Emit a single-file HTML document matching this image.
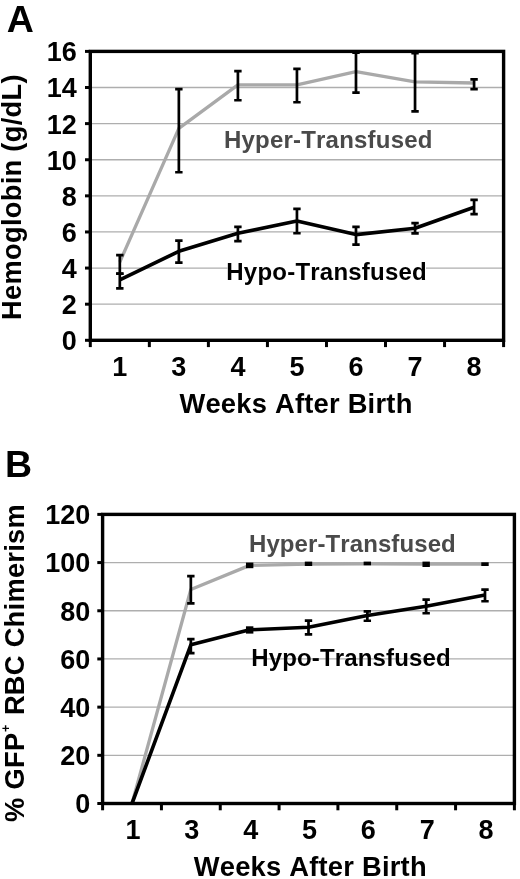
<!DOCTYPE html><html><head><meta charset="utf-8"><style>html,body{margin:0;padding:0;background:#fff}svg{display:block;filter:blur(0.45px)}text{font-kerning:none;font-family:"Liberation Sans",sans-serif;font-weight:bold}</style></head><body>
<svg width="520" height="879" viewBox="0 0 520 879">
<rect width="520" height="879" fill="#fff"/>
<line x1="90.3" x2="503.6" y1="304.19" y2="304.19" stroke="#aeaeae" stroke-width="1.3"/>
<line x1="90.3" x2="503.6" y1="268.07" y2="268.07" stroke="#aeaeae" stroke-width="1.3"/>
<line x1="90.3" x2="503.6" y1="231.96" y2="231.96" stroke="#aeaeae" stroke-width="1.3"/>
<line x1="90.3" x2="503.6" y1="195.85" y2="195.85" stroke="#aeaeae" stroke-width="1.3"/>
<line x1="90.3" x2="503.6" y1="159.74" y2="159.74" stroke="#aeaeae" stroke-width="1.3"/>
<line x1="90.3" x2="503.6" y1="123.62" y2="123.62" stroke="#aeaeae" stroke-width="1.3"/>
<line x1="90.3" x2="503.6" y1="87.51" y2="87.51" stroke="#aeaeae" stroke-width="1.3"/>
<polyline fill="none" stroke="#a9a9a9" stroke-width="3.3" stroke-linejoin="round" stroke-linecap="butt" points="119.82,262 178.86,128.3 237.91,84.8 296.95,84.8 355.99,71.7 415.04,81.9 474.08,83"/>
<path d="M119.82 253.8V275.1M116.12 255.15H123.52M116.12 273.75H123.52" stroke="#000" stroke-width="2.7" fill="none"/>
<path d="M178.86 87.8V173.6M175.16 89.15H182.56M175.16 172.25H182.56" stroke="#000" stroke-width="2.7" fill="none"/>
<path d="M237.91 69.8V101.6M234.21 71.15H241.61M234.21 100.25H241.61" stroke="#000" stroke-width="2.7" fill="none"/>
<path d="M296.95 67.6V103.6M293.25 68.95H300.65M293.25 102.25H300.65" stroke="#000" stroke-width="2.7" fill="none"/>
<path d="M355.99 51.2V93.9M352.29 52.55H359.69M352.29 92.55H359.69" stroke="#000" stroke-width="2.7" fill="none"/>
<path d="M415.04 51.8V112.8M411.34 53.15H418.74M411.34 111.45H418.74" stroke="#000" stroke-width="2.7" fill="none"/>
<path d="M474.08 78.1V90.4M470.38 79.45H477.78M470.38 89.05H477.78" stroke="#000" stroke-width="2.7" fill="none"/>
<rect x="227.5" y="265" width="198.5" height="6" fill="#fff"/>
<polyline fill="none" stroke="#000" stroke-width="3.6" stroke-linejoin="round" stroke-linecap="butt" points="119.82,279.8 178.86,251.3 237.91,233.3 296.95,220.9 355.99,234.6 415.04,228.3 474.08,207.3"/>
<path d="M119.82 272.3V289.7M116.12 273.65H123.52M116.12 288.35H123.52" stroke="#000" stroke-width="2.7" fill="none"/>
<path d="M178.86 239.3V264M175.16 240.65H182.56M175.16 262.65H182.56" stroke="#000" stroke-width="2.7" fill="none"/>
<path d="M237.91 225.5V242.4M234.21 226.85H241.61M234.21 241.05H241.61" stroke="#000" stroke-width="2.7" fill="none"/>
<path d="M296.95 207.6V234.6M293.25 208.95H300.65M293.25 233.25H300.65" stroke="#000" stroke-width="2.7" fill="none"/>
<path d="M355.99 225.5V246M352.29 226.85H359.69M352.29 244.65H359.69" stroke="#000" stroke-width="2.7" fill="none"/>
<path d="M415.04 221.8V234.8M411.34 223.15H418.74M411.34 233.45H418.74" stroke="#000" stroke-width="2.7" fill="none"/>
<path d="M474.08 198.5V215.4M470.38 199.85H477.78M470.38 214.05H477.78" stroke="#000" stroke-width="2.7" fill="none"/>
<rect x="90.3" y="51.4" width="413.3" height="288.9" fill="none" stroke="#000" stroke-width="3.4"/>
<line x1="85" x2="90.3" y1="340.3" y2="340.3" stroke="#000" stroke-width="3"/>
<text x="76.7" y="350.2" font-size="27" text-anchor="end">0</text>
<line x1="85" x2="90.3" y1="304.19" y2="304.19" stroke="#000" stroke-width="3"/>
<text x="76.7" y="314.09" font-size="27" text-anchor="end">2</text>
<line x1="85" x2="90.3" y1="268.07" y2="268.07" stroke="#000" stroke-width="3"/>
<text x="76.7" y="277.97" font-size="27" text-anchor="end">4</text>
<line x1="85" x2="90.3" y1="231.96" y2="231.96" stroke="#000" stroke-width="3"/>
<text x="76.7" y="241.86" font-size="27" text-anchor="end">6</text>
<line x1="85" x2="90.3" y1="195.85" y2="195.85" stroke="#000" stroke-width="3"/>
<text x="76.7" y="205.75" font-size="27" text-anchor="end">8</text>
<line x1="85" x2="90.3" y1="159.74" y2="159.74" stroke="#000" stroke-width="3"/>
<text x="76.7" y="169.64" font-size="27" text-anchor="end">10</text>
<line x1="85" x2="90.3" y1="123.62" y2="123.62" stroke="#000" stroke-width="3"/>
<text x="76.7" y="133.53" font-size="27" text-anchor="end">12</text>
<line x1="85" x2="90.3" y1="87.51" y2="87.51" stroke="#000" stroke-width="3"/>
<text x="76.7" y="97.41" font-size="27" text-anchor="end">14</text>
<line x1="85" x2="90.3" y1="51.4" y2="51.4" stroke="#000" stroke-width="3"/>
<text x="76.7" y="61.3" font-size="27" text-anchor="end">16</text>
<line x1="90.3" x2="90.3" y1="340.3" y2="347.1" stroke="#000" stroke-width="3"/>
<line x1="149.34" x2="149.34" y1="340.3" y2="347.1" stroke="#000" stroke-width="3"/>
<line x1="208.39" x2="208.39" y1="340.3" y2="347.1" stroke="#000" stroke-width="3"/>
<line x1="267.43" x2="267.43" y1="340.3" y2="347.1" stroke="#000" stroke-width="3"/>
<line x1="326.47" x2="326.47" y1="340.3" y2="347.1" stroke="#000" stroke-width="3"/>
<line x1="385.51" x2="385.51" y1="340.3" y2="347.1" stroke="#000" stroke-width="3"/>
<line x1="444.56" x2="444.56" y1="340.3" y2="347.1" stroke="#000" stroke-width="3"/>
<line x1="503.6" x2="503.6" y1="340.3" y2="347.1" stroke="#000" stroke-width="3"/>
<text x="119.82" y="376.4" font-size="27" text-anchor="middle">1</text>
<text x="178.86" y="376.4" font-size="27" text-anchor="middle">3</text>
<text x="237.91" y="376.4" font-size="27" text-anchor="middle">4</text>
<text x="296.95" y="376.4" font-size="27" text-anchor="middle">5</text>
<text x="355.99" y="376.4" font-size="27" text-anchor="middle">6</text>
<text x="415.04" y="376.4" font-size="27" text-anchor="middle">7</text>
<text x="474.08" y="376.4" font-size="27" text-anchor="middle">8</text>
<text x="296" y="412.7" font-size="27.3" letter-spacing="0.24" text-anchor="middle">Weeks After Birth</text>
<text transform="translate(21.1,197.1) rotate(-90)" font-size="27.3" letter-spacing="0.28" text-anchor="middle">Hemoglobin (g/dL)</text>
<text x="6.8" y="32.2" font-size="37.5">A</text>
<text x="224" y="147.5" font-size="24" letter-spacing="0.2" fill="#4a4a4a">Hyper-Transfused</text>
<text x="226.3" y="280" font-size="24" letter-spacing="0.22">Hypo-Transfused</text>
<line x1="102.6" x2="514.4" y1="755.32" y2="755.32" stroke="#aeaeae" stroke-width="1.3"/>
<line x1="102.6" x2="514.4" y1="707.13" y2="707.13" stroke="#aeaeae" stroke-width="1.3"/>
<line x1="102.6" x2="514.4" y1="658.95" y2="658.95" stroke="#aeaeae" stroke-width="1.3"/>
<line x1="102.6" x2="514.4" y1="610.77" y2="610.77" stroke="#aeaeae" stroke-width="1.3"/>
<line x1="102.6" x2="514.4" y1="562.58" y2="562.58" stroke="#aeaeae" stroke-width="1.3"/>
<polyline fill="none" stroke="#a9a9a9" stroke-width="3.3" stroke-linejoin="round" stroke-linecap="butt" points="132.01,803.5 190.84,589.5 249.67,565.4 308.5,564.1 367.33,563.8 426.16,564.2 484.99,564.2"/>
<path d="M190.84 574.7V604.8M187.14 576.05H194.54M187.14 603.45H194.54" stroke="#000" stroke-width="2.7" fill="none"/>
<rect x="245.97" y="562.6" width="7.4" height="5.6" fill="#000"/>
<rect x="304.8" y="561.6" width="7.4" height="4.4" fill="#000"/>
<rect x="363.63" y="561.6" width="7.4" height="3.7" fill="#000"/>
<rect x="422.46" y="561.6" width="7.4" height="5.4" fill="#000"/>
<rect x="481.29" y="562.3" width="7.4" height="3.7" fill="#000"/>
<polyline fill="none" stroke="#000" stroke-width="3.6" stroke-linejoin="round" stroke-linecap="butt" points="132.01,803.5 190.84,644.8 249.67,629.8 308.5,627.2 367.33,615.5 426.16,606.3 484.99,595"/>
<path d="M190.84 637.7V654.4M187.14 639.05H194.54M187.14 653.05H194.54" stroke="#000" stroke-width="2.7" fill="none"/>
<rect x="245.97" y="626.3" width="7.4" height="7.3" fill="#000"/>
<path d="M308.5 619.2V635.8M304.8 620.55H312.2M304.8 634.45H312.2" stroke="#000" stroke-width="2.7" fill="none"/>
<path d="M367.33 610V622.1M363.63 611.35H371.03M363.63 620.75H371.03" stroke="#000" stroke-width="2.7" fill="none"/>
<path d="M426.16 598.3V614.6M422.46 599.65H429.86M422.46 613.25H429.86" stroke="#000" stroke-width="2.7" fill="none"/>
<path d="M484.99 588.3V602.6M481.29 589.65H488.69M481.29 601.25H488.69" stroke="#000" stroke-width="2.7" fill="none"/>
<rect x="102.6" y="514.4" width="411.8" height="289.1" fill="none" stroke="#000" stroke-width="3.4"/>
<line x1="97.3" x2="102.6" y1="803.5" y2="803.5" stroke="#000" stroke-width="3"/>
<text x="90.3" y="813.4" font-size="27" text-anchor="end">0</text>
<line x1="97.3" x2="102.6" y1="755.32" y2="755.32" stroke="#000" stroke-width="3"/>
<text x="90.3" y="765.22" font-size="27" text-anchor="end">20</text>
<line x1="97.3" x2="102.6" y1="707.13" y2="707.13" stroke="#000" stroke-width="3"/>
<text x="90.3" y="717.03" font-size="27" text-anchor="end">40</text>
<line x1="97.3" x2="102.6" y1="658.95" y2="658.95" stroke="#000" stroke-width="3"/>
<text x="90.3" y="668.85" font-size="27" text-anchor="end">60</text>
<line x1="97.3" x2="102.6" y1="610.77" y2="610.77" stroke="#000" stroke-width="3"/>
<text x="90.3" y="620.67" font-size="27" text-anchor="end">80</text>
<line x1="97.3" x2="102.6" y1="562.58" y2="562.58" stroke="#000" stroke-width="3"/>
<text x="90.3" y="572.48" font-size="27" text-anchor="end">100</text>
<line x1="97.3" x2="102.6" y1="514.4" y2="514.4" stroke="#000" stroke-width="3"/>
<text x="90.3" y="524.3" font-size="27" text-anchor="end">120</text>
<line x1="102.6" x2="102.6" y1="803.5" y2="810.3" stroke="#000" stroke-width="3"/>
<line x1="161.43" x2="161.43" y1="803.5" y2="810.3" stroke="#000" stroke-width="3"/>
<line x1="220.26" x2="220.26" y1="803.5" y2="810.3" stroke="#000" stroke-width="3"/>
<line x1="279.09" x2="279.09" y1="803.5" y2="810.3" stroke="#000" stroke-width="3"/>
<line x1="337.91" x2="337.91" y1="803.5" y2="810.3" stroke="#000" stroke-width="3"/>
<line x1="396.74" x2="396.74" y1="803.5" y2="810.3" stroke="#000" stroke-width="3"/>
<line x1="455.57" x2="455.57" y1="803.5" y2="810.3" stroke="#000" stroke-width="3"/>
<line x1="514.4" x2="514.4" y1="803.5" y2="810.3" stroke="#000" stroke-width="3"/>
<text x="133.01" y="839.4" font-size="27" text-anchor="middle">1</text>
<text x="191.84" y="839.4" font-size="27" text-anchor="middle">3</text>
<text x="250.67" y="839.4" font-size="27" text-anchor="middle">4</text>
<text x="309.5" y="839.4" font-size="27" text-anchor="middle">5</text>
<text x="368.33" y="839.4" font-size="27" text-anchor="middle">6</text>
<text x="427.16" y="839.4" font-size="27" text-anchor="middle">7</text>
<text x="485.99" y="839.4" font-size="27" text-anchor="middle">8</text>
<text x="310.3" y="876.3" font-size="27.3" letter-spacing="0.24" text-anchor="middle">Weeks After Birth</text>
<text transform="translate(23.9,821.9) rotate(-90)" font-size="27.3" letter-spacing="0.26">% GFP<tspan font-size="12.5" dy="-14.2" dx="0.6">+</tspan><tspan dy="14.2" dx="1.5"> RBC Chimerism</tspan></text>
<text x="5" y="477" font-size="37.5">B</text>
<text x="249" y="551.6" letter-spacing="0.09" font-size="24" fill="#4a4a4a">Hyper-Transfused</text>
<text x="251.2" y="665.8" letter-spacing="0.15" font-size="24">Hypo-Transfused</text>
</svg></body></html>
